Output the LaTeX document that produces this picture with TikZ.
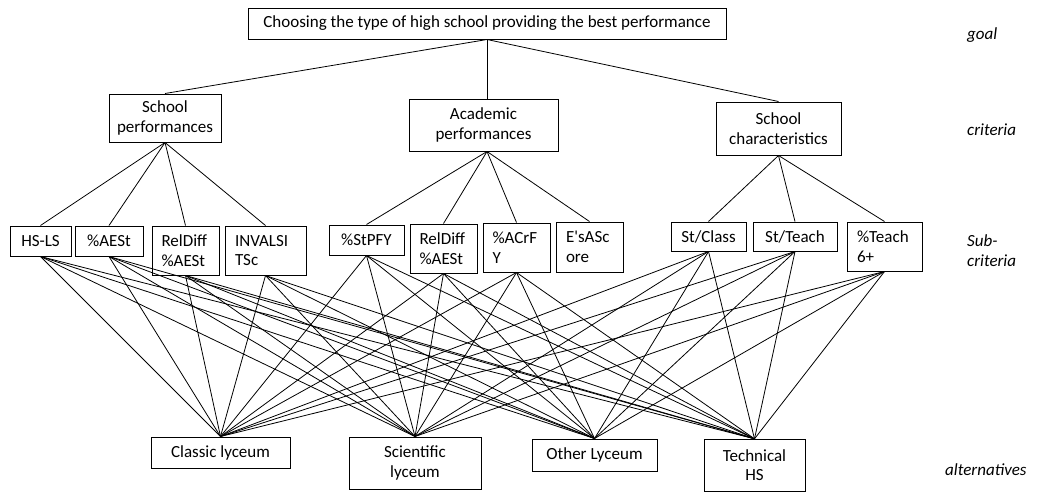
\documentclass[tikz,border=0pt]{standalone}
\usepackage{fontspec}
\setmainfont{Carlito}
\begin{document}
\tikzset{
 bx/.style={draw, line width=1pt, inner sep=0pt, font=\fontsize{17}{19.5}\selectfont, align=center},
 lbox/.style={bx, align=left},
 lab/.style={anchor=west, inner sep=0pt, font=\fontsize{17}{19.5}\selectfont\itshape, align=left},
 con/.style={line width=0.8pt}
}
\begin{tikzpicture}[x=1pt,y=-1pt]
\useasboundingbox (0,0) rectangle (1040,491);
\clip (0,0) rectangle (1040,491);
% goal
\node[bx, minimum width=478, minimum height=31] (goal) at (487,23.5) {Choosing the type of high school providing the best performance};
% criteria
\node[bx, minimum width=112, minimum height=48] (sp) at (165,118) {School\\performances};
\node[bx, minimum width=149, minimum height=52] (ap) at (483.5,125) {Academic\\performances};
\node[bx, minimum width=125, minimum height=53] (sc) at (778.5,128.5) {School\\characteristics};
% sub-criteria
\node[bx, minimum width=61, minimum height=30] (hsls) at (40.5,241) {HS-LS};
\node[bx, minimum width=68, minimum height=30] (aest) at (109,241) {\%AESt};
\node[lbox, minimum width=67, minimum height=49, text width=48] (rd1) at (185.5,250.5) {RelDiff\\\%AESt};
\node[lbox, minimum width=81, minimum height=49, text width=61] (inv) at (265.5,250.5) {INVALSI\\TSc};
\node[bx, minimum width=75, minimum height=30] (stpfy) at (366.5,240) {\%StPFY};
\node[lbox, minimum width=67, minimum height=49, text width=48] (rd2) at (443.5,248.5) {RelDiff\\\%AESt};
\node[lbox, minimum width=67, minimum height=49, text width=48] (acrfy) at (516.5,247.5) {\%ACrF\\Y};
\node[lbox, minimum width=67, minimum height=50, text width=47] (es) at (589.5,247) {E\textquotesingle sASc\\ore};
\node[bx, minimum width=75, minimum height=29] (stc) at (708.5,236.5) {St/Class};
\node[bx, minimum width=84, minimum height=29] (stt) at (795,236.5) {St/Teach};
\node[lbox, minimum width=75, minimum height=49, text width=55] (t6) at (884.5,246.5) {\%Teach\\6+};
% alternatives
\node[bx, minimum width=139, minimum height=31] (cl) at (220.5,452.5) {Classic lyceum};
\node[bx, minimum width=132, minimum height=52] (sl) at (415,463) {Scientific\\lyceum};
\node[bx, minimum width=125, minimum height=32] (ol) at (594.5,455) {Other Lyceum};
\node[bx, minimum width=101, minimum height=52] (th) at (754.5,465.3) {Technical\\HS};
% level labels
\node[lab] (lgoal) at (967,35) {goal};
\node[lab] (lcrit) at (967,130) {criteria};
\node[lab] (lsub) at (967,250.5) {Sub-\\criteria};
\node[lab] (lalt) at (945,470) {alternatives};
% connectors
\coordinate (apt) at (goal.south |- ap.north);
\coordinate (apb) at (goal.south |- ap.south);
\draw[con] (goal.south) -- (sp.north);
\draw[con] (goal.south) -- (apt);
\draw[con] (goal.south) -- (sc.north);
\foreach \s in {hsls,aest,rd1,inv} \draw[con] (sp.south) -- (\s.north);
\foreach \s in {stpfy,rd2,acrfy,es} \draw[con] (apb) -- (\s.north);
\foreach \s in {stc,stt,t6} \draw[con] (sc.south) -- (\s.north);
\foreach \s in {hsls,aest,rd1,inv,stpfy,rd2,acrfy,stc,stt,t6}
  \foreach \a in {cl,sl,ol,th}
    \draw[con] (\s.south) -- (\a.north);
\end{tikzpicture}
\end{document}
